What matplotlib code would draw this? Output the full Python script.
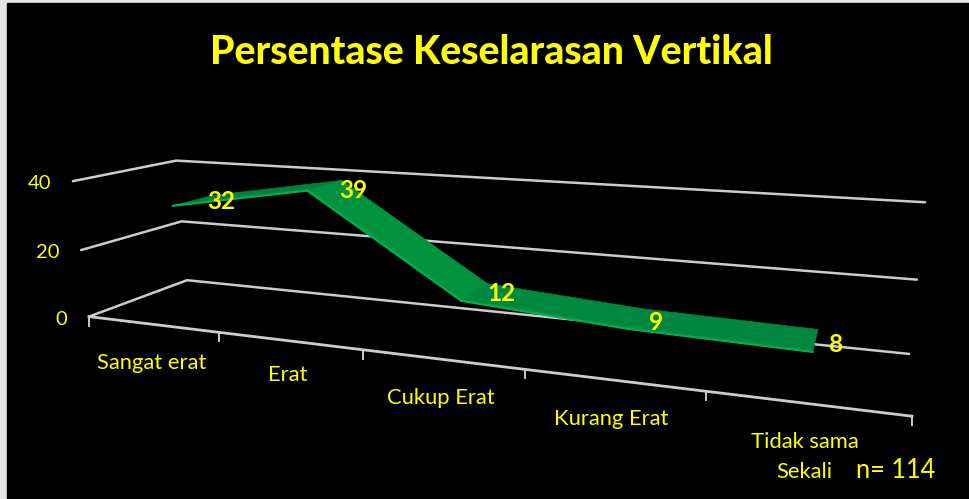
import numpy as np
import matplotlib
matplotlib.use('Agg')
import matplotlib.pyplot as plt
from matplotlib.patches import Polygon, Rectangle

# Chart data
categories = ['Sangat erat', 'Erat', 'Cukup Erat', 'Kurang Erat', 'Tidak sama\nSekali']
values = [32, 39, 12, 9, 8]
y_ticks = [0, 20, 40]
title = 'Persentase Keselarasan Vertikal'

yellow = '#FFFF00'
grid_col = '#CCCCCC'
plt.rcParams['font.family'] = ['Lato', 'DejaVu Sans']

# Perspective camera of the 3D chart, fitted from where the box corners sit in the picture
# (category pos 0-5, value, depth 0-1) -> pixel
n_cat = len(categories)
box = [(0, 0, 0, 89, 317), (0, 0, 1, 187, 280), (5, 0, 1, 909, 354), (5, 0, 0, 912, 416),
       (0, 20, 0, 81, 250), (0, 20, 1, 182, 221), (5, 20, 1, 917, 280),
       (0, 40, 0, 73, 181), (0, 40, 1, 176, 161), (5, 40, 1, 925, 202)]
A = []
b = []
for x, y, z, u, v in box:
    A.append([x, y, z, 1, 0, 0, 0, 0, -u * x, -u * y, -u * z])
    A.append([0, 0, 0, 0, x, y, z, 1, -v * x, -v * y, -v * z])
    b += [u, v]
p = np.linalg.lstsq(np.array(A, float), np.array(b, float), rcond=None)[0]
P = np.append(p, 1).reshape(3, 4)


def project(x, y, z):
    q = P @ np.array([x, y, z, 1.0])
    return q[0] / q[2], q[1] / q[2]


fig = plt.figure(figsize=(9.7, 4.99), dpi=100, facecolor='#E6E6E6')
ax = fig.add_axes([0, 0, 1, 1])
ax.set_xlim(0, 970)
ax.set_ylim(499, 0)
ax.axis('off')
ax.add_patch(Rectangle((7, 3), 980, 510, color='black', zorder=0))

# Gridlines: side wall then back wall
for t in y_ticks:
    pts = [project(0, t, 0), project(0, t, 1), project(n_cat, t, 1)]
    ax.plot(*zip(*pts), color=grid_col, lw=1.8, zorder=1, solid_capstyle='round')
    u, v = project(0, t, 0)
    ax.text(u - 22, v + 2.5, str(t), color=yellow, fontsize=14.5, ha='right', va='center')

# Front axis with ticks
ax.plot(*zip(project(0, 0, 0), project(n_cat, 0, 0)), color=grid_col, lw=2, zorder=1)
for k in range(n_cat + 1):
    u, v = project(k, 0, 0)
    ax.plot([u, u], [v, v + 9], color=grid_col, lw=1.4, zorder=1)

# Ribbon, one flat face per segment
d0, d1 = 0.3, 0.72
shades = ['#007F3F', '#00923F', '#00883F', '#00863F']
xs = np.arange(n_cat) + 0.5
for i in range(n_cat - 1):
    quad = [project(xs[i], values[i], d0), project(xs[i + 1], values[i + 1], d0),
            project(xs[i + 1], values[i + 1], d1), project(xs[i], values[i], d1)]
    ax.add_patch(Polygon(quad, closed=True, fc=shades[i], ec=shades[i], lw=0.5, zorder=2))
    ax.plot(*zip(quad[0], quad[1]), color='#00B050', lw=1.6, zorder=3, solid_capstyle='round')

# Data labels sit at the back of the ribbon, a bit to the right
label_dx = [28, 28, 27, 20, 21]
label_dy = [1, 5, 2, 4, 4]
for i, val in enumerate(values):
    u, v = project(xs[i], val, (d0 + d1) / 2)
    ax.text(u + label_dx[i], v + label_dy[i], str(val), color=yellow, fontsize=17.5,
            fontweight='bold', ha='center', va='center', zorder=4)

# Category labels below the front axis
cat_dy = [29, 24, 29, 29, 29]
for i, cat in enumerate(categories):
    u, v = project(xs[i], 0, 0)
    ax.text(u - 1, v + cat_dy[i], cat, color=yellow, fontsize=15.8, ha='center', va='top', linespacing=1.6)

ax.text(896, 470, 'n= 114', color=yellow, fontsize=18.4, ha='center', va='center')
ax.text(491, 52, title, color=yellow, fontsize=28.2, fontweight='black', ha='center', va='center')

fig.savefig('out.png', dpi=100, facecolor=fig.get_facecolor())
